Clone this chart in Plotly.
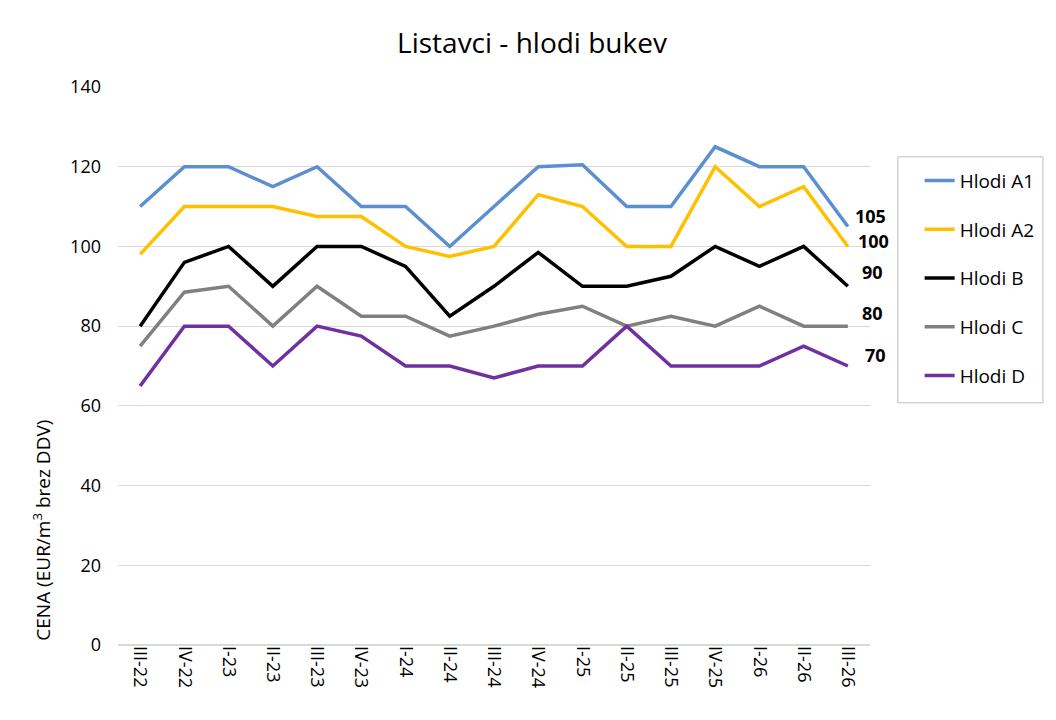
import plotly.graph_objects as go

# Obdobja (četrtletje-leto)
obdobja = ["III-22", "IV-22", "I-23", "II-23", "III-23", "IV-23", "I-24", "II-24",
           "III-24", "IV-24", "I-25", "II-25", "III-25", "IV-25", "I-26", "II-26", "III-26"]

hlodi_a1 = [110, 120, 120, 115, 120, 110, 110, 100, 110, 120, 120.5, 110, 110, 125, 120, 120, 105]
hlodi_a2 = [98, 110, 110, 110, 107.5, 107.5, 100, 97.5, 100, 113, 110, 100, 100, 120, 110, 115, 100]
hlodi_b = [80, 96, 100, 90, 100, 100, 95, 82.5, 90, 98.5, 90, 90, 92.5, 100, 95, 100, 90]
hlodi_c = [75, 88.5, 90, 80, 90, 82.5, 82.5, 77.5, 80, 83, 85, 80, 82.5, 80, 85, 80, 80]
hlodi_d = [65, 80, 80, 70, 80, 77.5, 70, 70, 67, 70, 70, 80, 70, 70, 70, 75, 70]

serije = [
    ("Hlodi A1", hlodi_a1, "#5b8fd0"),
    ("Hlodi A2", hlodi_a2, "#ffc000"),
    ("Hlodi B", hlodi_b, "#000000"),
    ("Hlodi C", hlodi_c, "#808080"),
    ("Hlodi D", hlodi_d, "#7030a0"),
]

# zamiki oznak zadnje vrednosti (px)
zamiki = [(23, 11), (26, 5), (25, 14), (25, 13), (28, 11)]

FONT = "Open Sans"

fig = go.Figure()
for (ime, vrednosti, barva) in serije:
    fig.add_trace(go.Scatter(
        x=obdobja, y=vrednosti, name=ime, mode="lines",
        line=dict(color=barva, width=3.5),
        legendgroup=ime,
    ))

# oznake zadnje vrednosti
for (ime, vrednosti, barva), (dx, dy) in zip(serije, zamiki):
    fig.add_annotation(
        x=obdobja[-1], y=vrednosti[-1], text="<b>%g</b>" % vrednosti[-1],
        showarrow=False, xshift=dx, yshift=dy,
        font=dict(family=FONT, size=18, color="black"),
    )

# naslov osi y
fig.add_annotation(
    x=-0.101, y=0.205, xref="paper", yref="paper", xanchor="center", yanchor="middle",
    text="CENA (EUR/m<sup>3</sup> brez DDV)", textangle=-90, showarrow=False,
    font=dict(family=FONT, size=19, color="black"),
)

# okvir legende
fig.add_shape(
    type="rect", xref="paper", yref="paper",
    x0=1.037, x1=1.230, y0=0.434, y1=0.875,
    line=dict(color="#bfbfbf", width=1), fillcolor="rgba(0,0,0,0)",
)

fig.update_layout(
    width=1048, height=712,
    title=dict(text="Listavci - hlodi bukev", x=0.5, xanchor="center", y=0.951,
               yanchor="middle",
               font=dict(family=FONT, size=28, color="black")),
    margin=dict(l=110, r=186, t=79, b=75, autoexpand=False),
    plot_bgcolor="white", paper_bgcolor="white",
    font=dict(family=FONT, size=18, color="black"),
    legend=dict(
        x=1.066, y=0.866, xanchor="left", yanchor="top",
        borderwidth=0, bgcolor="rgba(0,0,0,0)",
        font=dict(family=FONT, size=19, color="black"),
        tracegroupgap=21,
    ),
)

fig.update_xaxes(
    range=[-0.5, len(obdobja) - 0.5],
    tickangle=90, showgrid=False, showline=False, ticks="",
    tickfont=dict(family=FONT, size=18, color="black"),
)
fig.update_yaxes(
    range=[0, 140], dtick=20, showgrid=True, gridcolor="#d9d9d9", gridwidth=1,
    zeroline=True, zerolinecolor="#d9d9d9", showline=False, ticks="",
    ticklabelstandoff=16,
    tickfont=dict(family=FONT, size=18, color="black"),
)

fig.write_html("out.html")
